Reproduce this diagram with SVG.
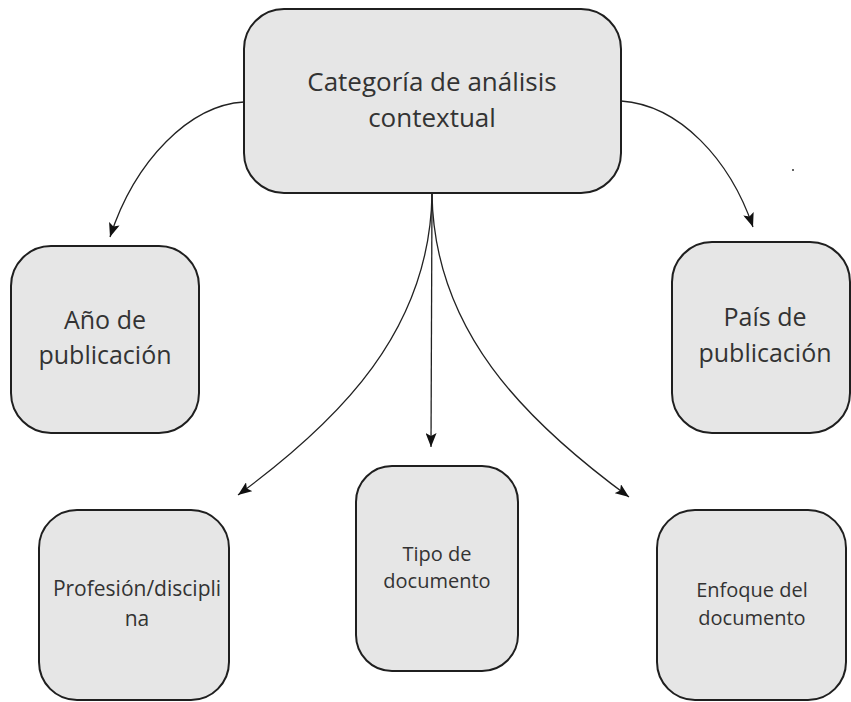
<svg xmlns="http://www.w3.org/2000/svg" width="851" height="702" viewBox="0 0 851 702">
  <style>
    .box { fill: #e6e6e6; stroke: #1f1f1f; stroke-width: 2; }
    .lbl { font-family: "Open Sans", "Noto Sans", "Liberation Sans", sans-serif; fill: #333333; text-anchor: middle; }
    .big { font-size: 26px; }
    .mid { font-size: 25px; }
    .sm { font-size: 20px; }
    .conn { fill: none; stroke: #222222; stroke-width: 1.3; marker-end: url(#arr); }
  </style>
  <defs>
    <marker id="arr" markerUnits="userSpaceOnUse" markerWidth="15" markerHeight="11" refX="14" refY="5.5" orient="auto">
      <path d="M0,0 L14,5.5 L0,11 L3,5.5 Z" fill="#111111"/>
    </marker>
  </defs>
  <rect width="851" height="702" fill="#ffffff"/>

  <g id="connectors">
    <path class="conn" d="M244,102 C190,105 135,160 110,237"/>
    <path class="conn" d="M621,101 C680,105 730,160 753,227"/>
    <path class="conn" d="M432,194 C430,330 340,420 238,495"/>
    <path class="conn" d="M432,194 L431,447"/>
    <path class="conn" d="M432,194 C434,330 524,420 629,497"/>
  </g>

  <g id="n-categoria">
    <rect class="box" x="244" y="9" width="377" height="184" rx="40" ry="40"/>
    <text class="lbl big" x="432" y="91">Categoría de análisis</text>
    <text class="lbl big" x="432" y="127">contextual</text>
  </g>

  <g id="n-anio">
    <rect class="box" x="11" y="246" width="188" height="187" rx="40" ry="40"/>
    <text class="lbl mid" x="105" y="329">Año de</text>
    <text class="lbl mid" x="105" y="364">publicación</text>
  </g>

  <g id="n-pais">
    <rect class="box" x="672" y="242" width="178" height="191" rx="40" ry="40"/>
    <text class="lbl mid" x="765" y="326">País de</text>
    <text class="lbl mid" x="765" y="362">publicación</text>
  </g>

  <g id="n-profesion">
    <rect class="box" x="39" y="510" width="190" height="190" rx="38" ry="38"/>
    <text class="lbl sm" x="137" y="596" style="font-size:21px">Profesión/discipli</text>
    <text class="lbl sm" x="137" y="626" style="font-size:21px">na</text>
  </g>

  <g id="n-tipo">
    <rect class="box" x="356" y="466" width="162" height="205" rx="36" ry="36"/>
    <text class="lbl sm" x="437" y="561">Tipo de</text>
    <text class="lbl sm" x="437" y="588">documento</text>
  </g>

  <g id="n-enfoque">
    <rect class="box" x="657" y="510" width="189" height="190" rx="38" ry="38"/>
    <text class="lbl sm" x="752" y="597">Enfoque del</text>
    <text class="lbl sm" x="752" y="625">documento</text>
  </g>

  <circle cx="793" cy="170" r="1" fill="#333333"/>
</svg>
